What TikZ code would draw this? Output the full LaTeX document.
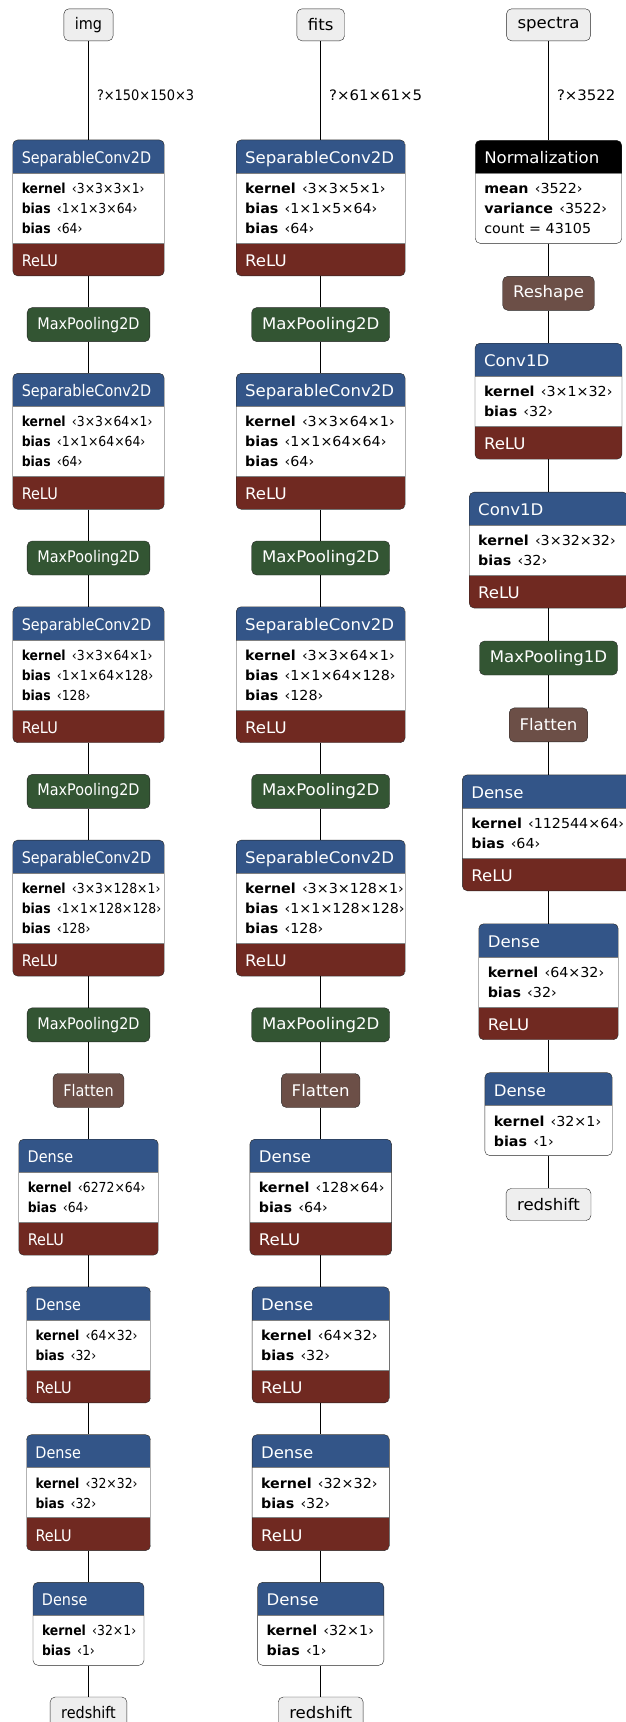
\documentclass[tikz,border=0pt]{standalone}
\usepackage{fontspec}
\setmainfont{DejaVu Sans}[FakeStretch=0.9]
\newfontfamily\widesans[FakeStretch=1.035]{DejaVu Sans}
\usepackage{xcolor}
\usepackage{tikz}
\usetikzlibrary{positioning}

\definecolor{layerblue}{RGB}{51,85,136}
\definecolor{actred}{RGB}{112,41,33}
\definecolor{poolgreen}{RGB}{51,85,51}
\definecolor{shapebrown}{RGB}{108,79,71}
\definecolor{iofill}{RGB}{238,238,238}

\newcommand{\colfont}{}
\newcommand{\hrow}[1]{\hbox{\vrule height 23.5pt depth 9.5pt width 0pt\hspace{9pt}\fontsize{16}{19}\selectfont\color{white}#1}}
\newcommand{\arow}[2]{\hbox{\vrule height 15.5pt depth 4.5pt width 0pt\hspace{9pt}\textbf{#1}\hspace{0.45em}‹#2›}}
\newcommand{\trow}[1]{\hbox{\vrule height 15.5pt depth 4.5pt width 0pt\hspace{9pt}#1}}
\newcommand{\lyr}[3]{\vbox{\offinterlineskip\hrow{#1}\vskip5pt#2\vskip5pt#3}}
\newcommand{\topband}[1]{%
  \fill[#1, sharp corners] (path picture bounding box.north west) rectangle ([yshift=-33pt]path picture bounding box.north east);
  \draw[black!50, sharp corners] ([yshift=-33pt]path picture bounding box.north west) -- ([yshift=-33pt]path picture bounding box.north east);}
\newcommand{\botband}{%
  \fill[actred, sharp corners] (path picture bounding box.south west) rectangle ([yshift=33pt]path picture bounding box.south east);
  \draw[black!50, sharp corners] ([yshift=33pt]path picture bounding box.south west) -- ([yshift=33pt]path picture bounding box.south east);}

\begin{document}
\begin{tikzpicture}[x=1pt, y=-1pt, node distance=31.3pt]
\tikzstyle{io} = [rectangle, draw=black!85, fill=iofill, rounded corners=5pt, minimum height=32pt, inner xsep=11pt, inner ysep=0pt, font=\colfont\fontsize{16}{19}\selectfont]
\tikzstyle{pill} = [rectangle, draw=black!85, rounded corners=5pt, text=white, minimum height=34pt, inner xsep=10.3pt, inner ysep=0pt, font=\colfont\fontsize{16}{19}\selectfont]
\tikzstyle{pool} = [pill, fill=poolgreen]
\tikzstyle{reshape} = [pill, fill=shapebrown]
\tikzstyle{layer} = [rectangle, draw=black!85, fill=white, rounded corners=5pt, inner sep=0pt, font=\colfont\fontsize{13.8}{16}\selectfont, path picture={\topband{layerblue}}]
\tikzstyle{layeract} = [layer, path picture={\topband{layerblue}\botband}]
\tikzstyle{normlayer} = [layer, path picture={\topband{black}}]
\tikzstyle{edge} = [line width=1pt]
\tikzstyle{dims} = [anchor=west, inner xsep=8pt, font=\colfont\fontsize{14.4}{17}\selectfont]

\useasboundingbox (0,0) rectangle (625,1722);

% img branch
\node (img) [io] at (88.5,24.8) {img};
\node (img_conv1) [layeract, text width=151.5pt, below=98.7pt of img] {\lyr{SeparableConv2D}{\arow{kernel}{3×3×3×1}\arow{bias}{1×1×3×64}\arow{bias}{64}}{\hrow{ReLU}}};
\node (img_pool1) [pool, below=of img_conv1] {MaxPooling2D};
\node (img_conv2) [layeract, text width=151.5pt, below=of img_pool1] {\lyr{SeparableConv2D}{\arow{kernel}{3×3×64×1}\arow{bias}{1×1×64×64}\arow{bias}{64}}{\hrow{ReLU}}};
\node (img_pool2) [pool, below=of img_conv2] {MaxPooling2D};
\node (img_conv3) [layeract, text width=151.5pt, below=of img_pool2] {\lyr{SeparableConv2D}{\arow{kernel}{3×3×64×1}\arow{bias}{1×1×64×128}\arow{bias}{128}}{\hrow{ReLU}}};
\node (img_pool3) [pool, below=of img_conv3] {MaxPooling2D};
\node (img_conv4) [layeract, text width=151.5pt, below=of img_pool3] {\lyr{SeparableConv2D}{\arow{kernel}{3×3×128×1}\arow{bias}{1×1×128×128}\arow{bias}{128}}{\hrow{ReLU}}};
\node (img_pool4) [pool, below=of img_conv4] {MaxPooling2D};
\node (img_flat) [reshape, below=of img_pool4] {Flatten};
\node (img_dense1) [layeract, text width=139.5pt, below=of img_flat] {\lyr{Dense}{\arow{kernel}{6272×64}\arow{bias}{64}}{\hrow{ReLU}}};
\node (img_dense2) [layeract, text width=124pt, below=of img_dense1] {\lyr{Dense}{\arow{kernel}{64×32}\arow{bias}{32}}{\hrow{ReLU}}};
\node (img_dense3) [layeract, text width=124pt, below=of img_dense2] {\lyr{Dense}{\arow{kernel}{32×32}\arow{bias}{32}}{\hrow{ReLU}}};
\node (img_dense4) [layer, text width=111pt, below=of img_dense3] {\lyr{Dense}{\arow{kernel}{32×1}\arow{bias}{1}}{}};
\node (img_out) [io, below=of img_dense4] {redshift};

\draw [edge] (img) -- node[dims, pos=0.55] {?×150×150×3} (img_conv1);
\draw [edge] (img_conv1) -- (img_pool1);
\draw [edge] (img_pool1) -- (img_conv2);
\draw [edge] (img_conv2) -- (img_pool2);
\draw [edge] (img_pool2) -- (img_conv3);
\draw [edge] (img_conv3) -- (img_pool3);
\draw [edge] (img_pool3) -- (img_conv4);
\draw [edge] (img_conv4) -- (img_pool4);
\draw [edge] (img_pool4) -- (img_flat);
\draw [edge] (img_flat) -- (img_dense1);
\draw [edge] (img_dense1) -- (img_dense2);
\draw [edge] (img_dense2) -- (img_dense3);
\draw [edge] (img_dense3) -- (img_dense4);
\draw [edge] (img_dense4) -- (img_out);

% fits branch
\begin{scope}
\renewcommand{\colfont}{\widesans}
\node (fits) [io] at (320.7,24.8) {fits};
\node (fits_conv1) [layeract, text width=169pt, below=98.7pt of fits] {\lyr{SeparableConv2D}{\arow{kernel}{3×3×5×1}\arow{bias}{1×1×5×64}\arow{bias}{64}}{\hrow{ReLU}}};
\node (fits_pool1) [pool, below=of fits_conv1] {MaxPooling2D};
\node (fits_conv2) [layeract, text width=169pt, below=of fits_pool1] {\lyr{SeparableConv2D}{\arow{kernel}{3×3×64×1}\arow{bias}{1×1×64×64}\arow{bias}{64}}{\hrow{ReLU}}};
\node (fits_pool2) [pool, below=of fits_conv2] {MaxPooling2D};
\node (fits_conv3) [layeract, text width=169pt, below=of fits_pool2] {\lyr{SeparableConv2D}{\arow{kernel}{3×3×64×1}\arow{bias}{1×1×64×128}\arow{bias}{128}}{\hrow{ReLU}}};
\node (fits_pool3) [pool, below=of fits_conv3] {MaxPooling2D};
\node (fits_conv4) [layeract, text width=169pt, below=of fits_pool3] {\lyr{SeparableConv2D}{\arow{kernel}{3×3×128×1}\arow{bias}{1×1×128×128}\arow{bias}{128}}{\hrow{ReLU}}};
\node (fits_pool4) [pool, below=of fits_conv4] {MaxPooling2D};
\node (fits_flat) [reshape, below=of fits_pool4] {Flatten};
\node (fits_dense1) [layeract, text width=141.7pt, below=of fits_flat] {\lyr{Dense}{\arow{kernel}{128×64}\arow{bias}{64}}{\hrow{ReLU}}};
\node (fits_dense2) [layeract, text width=137.3pt, below=of fits_dense1] {\lyr{Dense}{\arow{kernel}{64×32}\arow{bias}{32}}{\hrow{ReLU}}};
\node (fits_dense3) [layeract, text width=137.3pt, below=of fits_dense2] {\lyr{Dense}{\arow{kernel}{32×32}\arow{bias}{32}}{\hrow{ReLU}}};
\node (fits_dense4) [layer, text width=126.3pt, below=of fits_dense3] {\lyr{Dense}{\arow{kernel}{32×1}\arow{bias}{1}}{}};
\node (fits_out) [io, below=of fits_dense4] {redshift};

\draw [edge] (fits) -- node[dims, pos=0.55] {?×61×61×5} (fits_conv1);
\draw [edge] (fits_conv1) -- (fits_pool1);
\draw [edge] (fits_pool1) -- (fits_conv2);
\draw [edge] (fits_conv2) -- (fits_pool2);
\draw [edge] (fits_pool2) -- (fits_conv3);
\draw [edge] (fits_conv3) -- (fits_pool3);
\draw [edge] (fits_pool3) -- (fits_conv4);
\draw [edge] (fits_conv4) -- (fits_pool4);
\draw [edge] (fits_pool4) -- (fits_flat);
\draw [edge] (fits_flat) -- (fits_dense1);
\draw [edge] (fits_dense1) -- (fits_dense2);
\draw [edge] (fits_dense2) -- (fits_dense3);
\draw [edge] (fits_dense3) -- (fits_dense4);
\draw [edge] (fits_dense4) -- (fits_out);
\end{scope}

% spectra branch
\begin{scope}[node distance=32.5pt]
\renewcommand{\colfont}{\widesans}
\node (spectra) [io] at (548.5,24.8) {spectra};
\node (spec_norm) [normlayer, text width=146.5pt, below=99.2pt of spectra] {\lyr{Normalization}{\arow{mean}{3522}\arow{variance}{3522}\trow{count = 43105}}{}};
\node (spec_reshape) [reshape, below=of spec_norm] {Reshape};
\node (spec_conv1) [layeract, text width=147pt, below=of spec_reshape] {\lyr{Conv1D}{\arow{kernel}{3×1×32}\arow{bias}{32}}{\hrow{ReLU}}};
\node (spec_conv2) [layeract, text width=158.6pt, below=of spec_conv1] {\lyr{Conv1D}{\arow{kernel}{3×32×32}\arow{bias}{32}}{\hrow{ReLU}}};
\node (spec_pool) [pool, below=of spec_conv2] {MaxPooling1D};
\node (spec_flat) [reshape, below=of spec_pool] {Flatten};
\node (spec_dense1) [layeract, text width=172.4pt, below=of spec_flat] {\lyr{Dense}{\arow{kernel}{112544×64}\arow{bias}{64}}{\hrow{ReLU}}};
\node (spec_dense2) [layeract, text width=139.5pt, below=of spec_dense1] {\lyr{Dense}{\arow{kernel}{64×32}\arow{bias}{32}}{\hrow{ReLU}}};
\node (spec_dense3) [layer, text width=127.4pt, below=of spec_dense2] {\lyr{Dense}{\arow{kernel}{32×1}\arow{bias}{1}}{}};
\node (spec_out) [io, below=of spec_dense3] {redshift};

\draw [edge] (spectra) -- node[dims, pos=0.55] {?×3522} (spec_norm);
\draw [edge] (spec_norm) -- (spec_reshape);
\draw [edge] (spec_reshape) -- (spec_conv1);
\draw [edge] (spec_conv1) -- (spec_conv2);
\draw [edge] (spec_conv2) -- (spec_pool);
\draw [edge] (spec_pool) -- (spec_flat);
\draw [edge] (spec_flat) -- (spec_dense1);
\draw [edge] (spec_dense1) -- (spec_dense2);
\draw [edge] (spec_dense2) -- (spec_dense3);
\draw [edge] (spec_dense3) -- (spec_out);
\end{scope}

\end{tikzpicture}
\end{document}
